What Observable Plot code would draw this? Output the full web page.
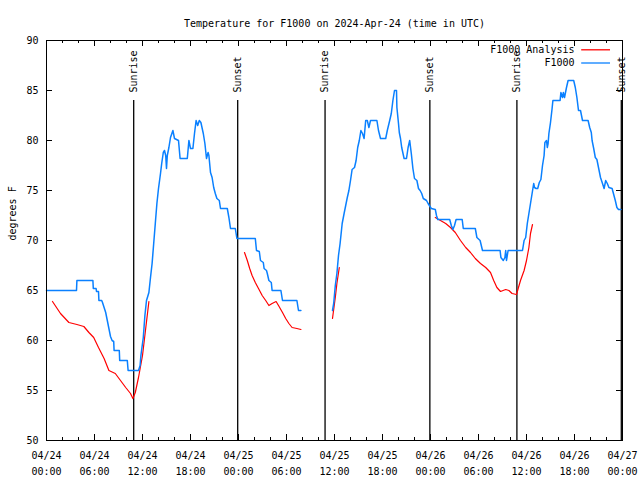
<!DOCTYPE html>
<html><head><meta charset="utf-8">
<script src="https://cdn.jsdelivr.net/npm/d3@7"></script>
<script src="https://cdn.jsdelivr.net/npm/@observablehq/plot@0.6"></script>
<style>body{margin:0;background:#fff}</style>
</head><body><div id="chart"></div>
<script>
const titleText = "Temperature for F1000 on 2024-Apr-24 (time in UTC)";
const yLabel = "degrees F";
const seriesNames = ["F1000 Analysis", "F1000"];
const seriesColors = ["#ff0000", "#0a80ff"];
// hours since 2024-04-24 00:00 UTC
const majorHours = [0, 6, 12, 18, 24, 30, 36, 42, 48, 54, 60, 66, 72];
const xTickLabels = ["04/24\n00:00","04/24\n06:00","04/24\n12:00","04/24\n18:00","04/25\n00:00","04/25\n06:00","04/25\n12:00","04/25\n18:00","04/26\n00:00","04/26\n06:00","04/26\n12:00","04/26\n18:00","04/27\n00:00"];
const minorHours = [2,4,8,10,14,16,20,22,26,28,32,34,38,40,44,46,50,52,56,58,62,64,68,70];
const yTicks = [50, 55, 60, 65, 70, 75, 80, 85, 90];
const sunHours = [10.9, 23.9, 34.82, 47.92, 58.8, 71.85];
const sunLabels = ["Sunrise", "Sunset", "Sunrise", "Sunset", "Sunrise", "Sunset"];

// F1000 observations (null = gap)
const obsHours = [0,3.75,3.8,5.8,5.85,6.2,6.25,6.5,6.55,6.9,7,7.2,7.4,7.6,7.8,8,8.2,8.4,8.45,9.1,9.15,10.1,10.2,11.5,11.7,11.8,12.1,12.3,12.5,12.8,13,13.2,13.4,13.6,13.8,14,14.25,14.4,14.6,14.75,14.9,15,15.1,15.3,15.5,15.8,16,16.5,16.7,17.6,17.8,18,18.3,18.5,18.7,18.9,19.1,19.3,19.6,19.8,20,20.2,20.3,20.5,20.7,20.9,21.1,21.3,21.6,21.75,22.6,22.8,23,23.6,23.8,26.1,26.25,26.6,26.75,27.1,27.2,27.5,27.6,27.8,28.1,28.2,29.3,29.5,31.3,31.5,31.8,
  33,
  35.75,35.9,36.1,36.3,36.5,36.7,36.96,37.2,37.4,37.6,37.8,38,38.2,38.5,38.7,38.9,39.1,39.3,39.5,39.7,39.9,40.1,40.3,40.5,41.3,41.5,41.75,42.4,42.6,42.9,43.1,43.3,43.5,43.75,43.8,44,44.1,44.25,44.4,44.7,45,45.2,45.4,45.6,45.8,46,46.3,46.5,46.7,46.9,47.1,47.5,47.7,48.1,48.6,48.75,48.9,50.4,50.6,50.8,51,51.2,51.96,52.1,53.6,53.8,54.2,54.5,56.7,56.8,57.1,57.3,57.4,57.5,57.7,59.5,59.7,59.9,60.1,60.3,60.5,60.7,60.9,61,61.2,61.4,61.6,61.8,62,62.2,62.3,62.5,62.6,62.7,62.8,63,63.2,63.3,64.2,64.3,64.5,64.6,64.75,65,65.2,65.9,66.1,66.3,66.5,66.75,67,67.7,67.9,68.1,68.2,68.4,68.6,68.8,69,69.25,69.5,69.7,69.9,70.1,70.3,70.7,71.1,71.3,71.5,71.8];
const obsTemps = [65,65,66,66,65.2,65.2,64.9,64.9,64,64,63.8,63.3,62.8,62,61.2,60.4,60,59.9,59,59,58,58,57,57,57.5,58.5,60.3,62.5,64,64.8,66.3,67.7,69.7,71.7,73.7,75.2,76.7,77.7,78.8,79,78.5,77.2,78.5,79.3,80.3,81,80.2,80,78.2,78.2,80,79.2,79.2,80.7,82,81.5,82,81.8,80.7,79.7,78.2,78.8,78.5,76.8,76.3,75.3,74.7,74.2,74,73.2,73.2,72.3,71.2,71.2,70.2,70.2,69,68.9,68,67.8,67.2,67,66.7,66,65.8,65,65,64,64,63,63,
  null,
  63,63.7,65.5,66.7,68.5,69.7,71.7,72.7,73.5,74.3,75,76,77.1,77.3,78,79.3,80,81,80.7,80.2,82,82,81.3,82,82,81,80.2,80.2,81,82,82.7,84,85,85,83.3,81.7,80.8,80.2,79.3,78.2,78.2,79.3,80,78.7,77.2,76.2,76,75.2,75,74.7,74.2,74,73.7,73.2,73.1,72.5,72.1,72.1,71.5,71.1,71.5,72.1,72.1,71.2,71.2,70.3,70,69,69,68.3,68,68.3,69,68,69,69,70,70.3,71.7,72.7,73.7,74.7,75.7,75.3,75.2,75.2,75.8,76.1,77.5,78.5,79.8,80,79.3,79.7,80.7,81.8,83.2,84,84,84.8,84.3,84.8,84.3,85.3,86,86,85.3,84.3,83,83,82,82,81.3,80.8,80,79.2,78.3,78.1,77.3,76.3,75.7,75.2,76,75.7,75.3,75.2,74,73.3,73.1,73.1];

// F1000 Analysis (null = gap)
const anaHours = [0.75,1.75,2.8,3.8,4.67,5.3,5.9,6.5,7.2,7.8,8.6,9.25,9.9,10.5,10.8,11.1,11.5,12,12.4,12.8,
  18,
  24.75,25.1,25.4,25.7,26.1,26.5,26.96,27.4,27.8,28.2,28.7,29,29.5,29.9,30.3,30.7,31.3,31.8,
  33,
  35.75,36.1,36.3,36.6,
  42,
  48.6,49.25,49.9,50.5,51.1,51.75,52.4,53,53.6,54.25,54.9,55.5,55.9,56.3,56.75,57.4,57.8,58.2,58.75,58.96,59.25,59.7,60,60.3,60.5,60.75];
const anaTemps = [63.9,62.7,61.8,61.6,61.4,60.8,60.3,59.3,58.2,57.0,56.7,56,55.3,54.7,54.2,54.8,56.3,58.5,61.2,63.9,
  null,
  68.8,68,67.2,66.5,65.8,65.2,64.5,64,63.5,63.7,63.9,63.5,62.8,62.2,61.7,61.3,61.2,61.1,
  null,
  62.2,64.3,65.7,67.3,
  null,
  72.3,72,71.7,71.3,70.8,70,69.3,68.8,68.2,67.7,67.3,66.8,66,65.3,64.9,65.1,65,64.7,64.6,65.2,66,67,68,69.3,70.7,71.6];

const obs = obsHours.map((h, i) => ({h, t: obsTemps[i]}));
const ana = anaHours.map((h, i) => ({h, t: anaTemps[i]}));
const sun = sunHours.map((h, i) => ({h, label: sunLabels[i]}));
const legend = seriesNames.map((name, i) => ({name, color: seriesColors[i], row: i}));

const font = "DejaVu Sans Mono";
const chart = Plot.plot({
  width: 640, height: 480,
  marginLeft: 46, marginRight: 18, marginTop: 40, marginBottom: 40,
  style: {fontFamily: font, fontSize: "10px", background: "white", color: "black"},
  x: {domain: [0, 72], axis: null},
  y: {domain: [50, 90], axis: null},
  marks: [
    // ticks (inward, mirrored)
    Plot.ruleX(majorHours, {x: d => d, y1: 50, y2: 50.6, stroke: "black"}),
    Plot.ruleX(minorHours, {x: d => d, y1: 50, y2: 50.3, stroke: "black"}),
    Plot.ruleX(majorHours, {x: d => d, y1: 90, y2: 89.4, stroke: "black"}),
    Plot.ruleX(minorHours, {x: d => d, y1: 90, y2: 89.7, stroke: "black"}),
    Plot.ruleY(yTicks, {y: d => d, x1: 0, x2: 0.75, stroke: "black"}),
    Plot.ruleY(yTicks, {y: d => d, x1: 72, x2: 71.25, stroke: "black"}),
    // tick labels
    Plot.text(majorHours, {x: d => d, y: 50, dy: 21, text: (d, i) => xTickLabels[i], lineHeight: 1.6, fill: "black", fontSize: 10}),
    Plot.text(yTicks, {x: 0, y: d => d, dx: -8, textAnchor: "end", text: d => String(d), fill: "black", fontSize: 10}),
    Plot.text([yLabel], {frameAnchor: "left", dx: -34, rotate: -90, text: d => d, fill: "black", fontSize: 10}),
    Plot.text([titleText], {frameAnchor: "top", dy: -21, text: d => d, fill: "black", fontSize: 10}),
    // sunrise / sunset
    Plot.ruleX(sun, {x: "h", y1: 50, y2: 84, stroke: "black", strokeWidth: 1.3}),
    Plot.text(sun, {x: "h", y: 84.8, text: "label", rotate: -90, textAnchor: "start", fill: "black", fontSize: 10}),
    // series
    Plot.line(ana, {x: "h", y: "t", stroke: seriesColors[0], strokeWidth: 1.2}),
    Plot.line(obs, {x: "h", y: "t", stroke: seriesColors[1], strokeWidth: 1.5}),
    // legend
    Plot.text(legend, {x: 66, y: d => 89.05 - d.row * 1.32, text: "name", textAnchor: "end", fill: "black", fontSize: 10}),
    Plot.ruleY(legend, {y: d => 89.07 - d.row * 1.32, x1: 66.9, x2: 70.5, stroke: "color", strokeWidth: 1.3}),
    Plot.frame({stroke: "black"})
  ]
});
document.getElementById("chart").appendChild(chart);
</script>
</body></html>
